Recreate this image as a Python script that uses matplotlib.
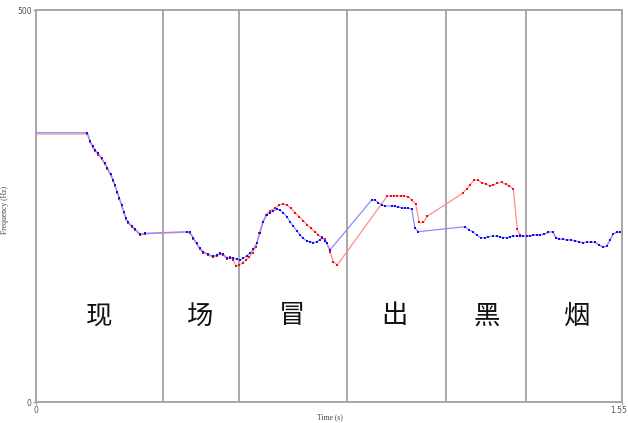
import matplotlib
matplotlib.use("Agg")
import matplotlib.pyplot as plt
from matplotlib.transforms import ScaledTranslation

# Pitch track A (blue)
blue_t = [0.0, 0.1357, 0.1428, 0.150, 0.156, 0.1648, 0.1738, 0.1825, 0.1886, 0.1976,
          0.2044, 0.2089, 0.215, 0.2203, 0.2267, 0.2327, 0.238, 0.2441, 0.2531, 0.2618,
          0.2751, 0.2883, 0.3986, 0.4073, 0.416, 0.425, 0.4337, 0.4425, 0.4557, 0.4689,
          0.4779, 0.4866, 0.4954, 0.5044, 0.5131, 0.5218, 0.5308, 0.5395, 0.5483, 0.5573,
          0.566, 0.5747, 0.5837, 0.5924, 0.6012, 0.6102, 0.6189, 0.6276, 0.6366, 0.6453,
          0.6541, 0.663, 0.6718, 0.6805, 0.6895, 0.6982, 0.7069, 0.716, 0.7247, 0.7334,
          0.7424, 0.7511, 0.7556, 0.7643, 0.7688, 0.7776, 0.8879, 0.8966, 0.9053, 0.9143,
          0.923, 0.9408, 0.9495, 0.9582, 0.9672, 0.9759, 0.9847, 0.9937, 1.0024, 1.0111,
          1.1346, 1.146, 1.155, 1.1656, 1.1761, 1.1875, 1.1962, 1.2079, 1.2185, 1.2272,
          1.2359, 1.2449, 1.2536, 1.2624, 1.2714, 1.2801, 1.2888, 1.2978, 1.3065, 1.3153,
          1.3243, 1.333, 1.3436, 1.3549, 1.3666, 1.3753, 1.384, 1.393, 1.4036, 1.4142,
          1.4255, 1.4369, 1.4475, 1.458, 1.467, 1.4784, 1.4898, 1.5004, 1.5094, 1.5181,
          1.5268, 1.5358, 1.5445]
blue_f = [343.5, 343.5, 332.9, 326.9, 321.4, 317.2, 310.8, 304.5, 298.9, 290.4,
          283.2, 276.8, 268.2, 260.6, 251.3, 242.0, 234.3, 229.2, 224.9, 220.7,
          213.9, 215.2, 217.2, 216.5, 209.6, 202.4, 196.0, 191.7, 188.4, 185.8,
          187.5, 189.7, 188.4, 184.1, 184.1, 183.3, 182.0, 181.1, 183.3, 186.2,
          189.7, 194.8, 202.4, 215.2, 230.0, 238.5, 241.5, 244.0, 245.8, 244.9,
          241.5, 236.4, 230.0, 224.5, 218.5, 213.0, 208.8, 205.7, 204.5, 203.2,
          204.5, 206.6, 209.6, 205.7, 202.4, 193.9, 257.7, 257.7, 254.2, 251.3,
          250.0, 250.0, 249.4, 248.7, 247.8, 247.1, 247.1, 245.8, 221.6, 217.2,
          223.6, 219.4, 217.2, 213.0, 209.6, 209.6, 210.8, 211.7, 211.7, 210.8,
          209.6, 209.6, 210.8, 211.7, 211.7, 211.7, 211.7, 211.7, 212.1, 212.6,
          213.0, 213.4, 213.9, 216.5, 217.2, 209.6, 207.9, 207.5, 207.0, 206.6,
          205.7, 204.1, 203.2, 203.7, 204.1, 203.7, 200.3, 197.3, 199.0, 206.6,
          214.3, 216.5, 216.5]

# Pitch track B (red)
red_t = [0.0, 0.1357, 0.1428, 0.150, 0.156, 0.1648, 0.1738, 0.1825, 0.1886, 0.1976,
         0.2044, 0.2089, 0.215, 0.2203, 0.2267, 0.2327, 0.238, 0.2441, 0.2531, 0.2618,
         0.2751, 0.2883, 0.3986, 0.4073, 0.416, 0.425, 0.4337, 0.4425, 0.4557, 0.4689,
         0.4779, 0.4866, 0.4954, 0.5044, 0.5131, 0.5218, 0.529, 0.5377, 0.5467, 0.5554,
         0.5641, 0.5731, 0.5819, 0.5906, 0.5996, 0.6083, 0.6189, 0.6321, 0.6435, 0.6541,
         0.6646, 0.6736, 0.685, 0.6964, 0.7069, 0.7175, 0.7265, 0.7379, 0.7466, 0.7556,
         0.7643, 0.7688, 0.7776, 0.7863, 0.7969, 0.9291, 0.9381, 0.9468, 0.9556, 0.9646,
         0.9733, 0.9847, 0.9937, 1.0042, 1.0138, 1.0243, 1.0349, 1.1285, 1.1391, 1.1478,
         1.1584, 1.1698, 1.1788, 1.1902, 1.2007, 1.2095, 1.2201, 1.2317, 1.2423, 1.2518,
         1.2624, 1.273, 1.2801, 1.2888, 1.2978, 1.3065, 1.3153, 1.3243, 1.333, 1.3436,
         1.3549, 1.3666, 1.3753, 1.384, 1.393, 1.4036, 1.4142, 1.4255, 1.4369, 1.4475,
         1.458, 1.467, 1.4784, 1.4898, 1.5004, 1.5094, 1.5181, 1.5268, 1.5358, 1.5445]
red_f = [341.8, 341.8, 331.5, 325.0, 320.2, 315.5, 309.6, 303.0, 297.5, 289.0,
         282.0, 275.3, 267.0, 259.0, 250.0, 241.0, 233.0, 228.0, 223.5, 219.5,
         212.8, 214.5, 216.5, 215.5, 208.5, 201.5, 195.0, 190.5, 187.5, 184.5,
         186.5, 188.5, 187.0, 183.0, 185.3, 181.1, 173.5, 174.7, 177.7, 181.1,
         185.3, 190.4, 198.1, 215.2, 230.0, 238.5, 244.0, 247.1, 251.3, 252.6,
         251.3, 247.1, 241.5, 236.4, 231.3, 225.8, 221.6, 217.2, 213.0, 210.1,
         207.5, 203.2, 191.7, 179.0, 174.7, 262.8, 262.8, 262.8, 263.1, 263.1,
         262.8, 261.9, 257.7, 252.6, 229.0, 229.0, 236.9, 266.2, 271.7, 276.8,
         282.8, 282.8, 279.7, 277.7, 275.9, 276.8, 278.9, 280.2, 277.7, 275.9,
         271.7, 220.3, 213.0, 211.7, 211.7, 212.1, 212.6, 213.0, 213.4, 213.9,
         216.5, 217.2, 209.6, 207.9, 207.5, 207.0, 206.6, 205.7, 204.1, 203.2,
         203.7, 204.1, 203.7, 200.3, 197.3, 199.0, 206.6, 214.3, 216.5, 216.5]

# Syllable boundaries (s) and syllable labels
boundaries = [0.3367, 0.537, 0.8217, 1.0844, 1.296]
syllables = ["现", "场", "冒", "出", "黑", "烟"]
syllable_t = [0.1666, 0.431, 0.677, 0.947, 1.193, 1.431]
syllable_f = 109.7

t_max = 1.55
f_max = 500

fig = plt.figure(figsize=(6.28, 4.23), dpi=100)
ax = fig.add_axes([36 / 628, 21 / 423, 586 / 628, 392 / 423])

frame_color = "#a6a6a6"
for s in ax.spines.values():
    s.set_color(frame_color)
    s.set_linewidth(1.4)

for b in boundaries:
    ax.axvline(b, color="#909090", linewidth=1.1, zorder=1)

ax.plot(red_t, red_f, color="#ff8c8c", linewidth=0.9, zorder=2)
ax.plot(red_t[1:], red_f[1:], linestyle="none", marker="s", markersize=1.8,
        color="#ee1010", markeredgewidth=0, zorder=3)
ax.plot(blue_t, blue_f, color="#8c8cff", linewidth=0.9, zorder=4)
ax.plot(blue_t[1:], blue_f[1:], linestyle="none", marker="s", markersize=1.8,
        color="#1010ee", markeredgewidth=0, zorder=5)

for ch, t in zip(syllables, syllable_t):
    ax.text(t, syllable_f, ch, ha="center", va="center", fontsize=19,
            family=["Noto Sans CJK SC", "DejaVu Sans"], color="#111111",
            fontweight="light")

ax.set_xlim(0, t_max)
ax.set_ylim(0, f_max)
ax.set_xticks([0, t_max])
ax.set_xticklabels(["0", "1.55"])
ax.set_yticks([0, f_max])
ax.set_yticklabels(["0", "500"])
ax.tick_params(axis="both", length=2, width=1, color=frame_color,
               labelsize=5.5, labelcolor="#555555", pad=1)

# keep the right-hand time label inside the canvas
last = ax.get_xticklabels()[-1]
last.set_horizontalalignment("right")
last.set_transform(last.get_transform() + ScaledTranslation(5 / 100, 0, fig.dpi_scale_trans))

ax.set_xlabel("Time (s)", fontsize=5.5, family="Liberation Serif", color="#444444")
ax.set_ylabel("Frequency (Hz)", fontsize=5.5, family="Liberation Serif", color="#444444")
ax.xaxis.set_label_coords(0.502, -0.028)
ax.yaxis.set_label_coords(-0.046, 0.49)

fig.savefig("out.png", dpi=100)
